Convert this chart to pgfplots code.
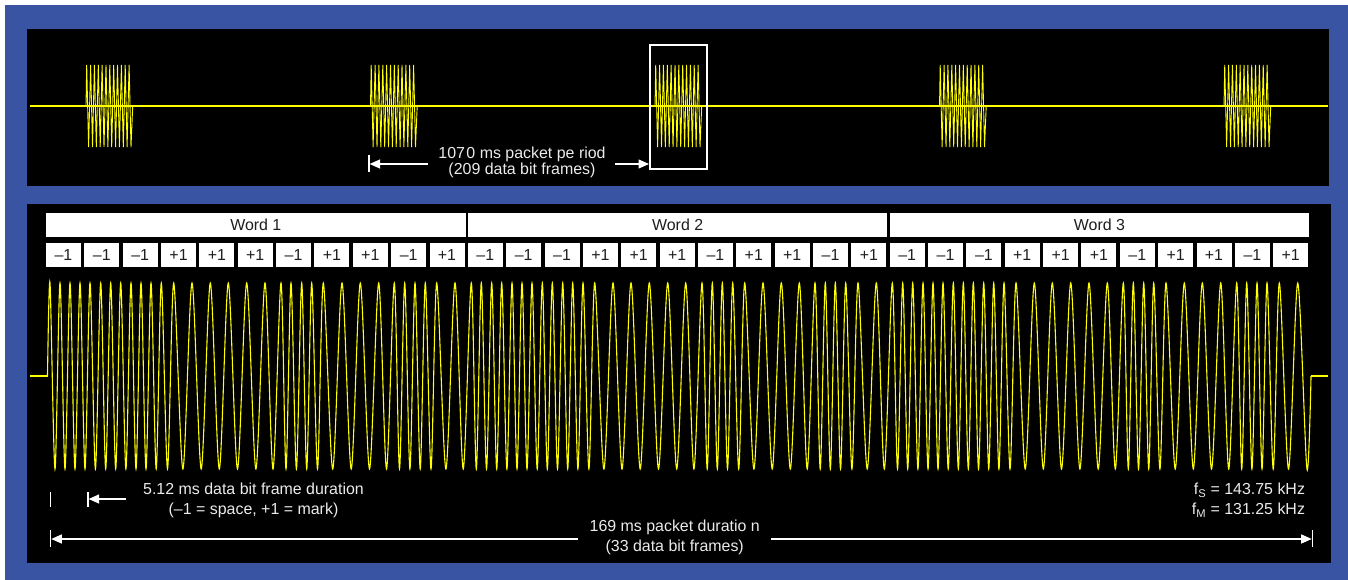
\documentclass[border=0pt]{standalone}
\usepackage{fontspec}
\setmainfont{Liberation Sans}
\usepackage{pgfplots}
\pgfplotsset{compat=1.18}
\usetikzlibrary{arrows.meta}
\definecolor{bgblue}{RGB}{58,84,164}
\definecolor{wave}{RGB}{255,255,0}
\definecolor{txt}{RGB}{235,235,235}
\definecolor{boxtxt}{RGB}{30,30,30}
\tikzset{ann/.style={white,line width=1.3bp},
  tip/.style={ann,-{Triangle[length=10.5bp,width=9bp]}}}

\begin{document}
\begin{tikzpicture}[font=\fontsize{16}{19}\selectfont]
% page in pixel units, origin top left
\begin{scope}[x=1bp,y=-1bp,yshift=580bp]
  \fill[white] (0,0) rectangle (1348,580);
  \fill[bgblue] (5,5) rectangle (1348,580);
  \fill[black] (27,29) rectangle (1329,186);
  \fill[black] (27,204) rectangle (1331,563);
\end{scope}

\begin{axis}[width=1348bp,height=580bp,scale only axis,
  xmin=0,xmax=1348,ymin=0,ymax=580,y dir=reverse,hide axis]
% top trace: baseline and five packets
\addplot[wave,line width=1.1bp] coordinates {(30,106) (1328,106)};
\addplot[wave,line width=0.9bp] coordinates {
 (86,106) (86.7,65) (88.6,147) (90.6,65) (92.5,147) (94.4,65) (96.3,147) (98.3,65) (100.2,147)
 (102.1,65) (104.0,147) (106.0,65) (107.9,147) (109.8,65) (111.7,147) (113.7,65) (115.6,147)
 (117.5,65) (119.4,147) (121.4,65) (123.3,147) (125.2,65) (127.1,147) (129.1,65) (131.0,147) (132.7,106)};
\addplot[wave,line width=0.9bp] coordinates {
 (370.5,106) (371.2,65) (373.1,147) (375.1,65) (377.0,147) (378.9,65) (380.8,147) (382.8,65) (384.7,147)
 (386.6,65) (388.5,147) (390.5,65) (392.4,147) (394.3,65) (396.2,147) (398.2,65) (400.1,147)
 (402.0,65) (403.9,147) (405.9,65) (407.8,147) (409.7,65) (411.6,147) (413.6,65) (415.5,147) (417.2,106)};
\addplot[wave,line width=0.9bp] coordinates {
 (655,106) (655.7,65) (657.6,147) (659.6,65) (661.5,147) (663.4,65) (665.3,147) (667.3,65) (669.2,147)
 (671.1,65) (673.0,147) (675.0,65) (676.9,147) (678.8,65) (680.7,147) (682.7,65) (684.6,147)
 (686.5,65) (688.4,147) (690.4,65) (692.3,147) (694.2,65) (696.1,147) (698.1,65) (700.0,147) (701.7,106)};
\addplot[wave,line width=0.9bp] coordinates {
 (939.5,106) (940.2,65) (942.1,147) (944.1,65) (946.0,147) (947.9,65) (949.8,147) (951.8,65) (953.7,147)
 (955.6,65) (957.5,147) (959.5,65) (961.4,147) (963.3,65) (965.2,147) (967.2,65) (969.1,147)
 (971.0,65) (972.9,147) (974.9,65) (976.8,147) (978.7,65) (980.6,147) (982.6,65) (984.5,147) (986.2,106)};
\addplot[wave,line width=0.9bp] coordinates {
 (1224,106) (1224.7,65) (1226.6,147) (1228.6,65) (1230.5,147) (1232.4,65) (1234.3,147) (1236.3,65) (1238.2,147)
 (1240.1,65) (1242.0,147) (1244.0,65) (1245.9,147) (1247.8,65) (1249.7,147) (1251.7,65) (1253.6,147)
 (1255.5,65) (1257.4,147) (1259.4,65) (1261.3,147) (1263.2,65) (1265.1,147) (1267.1,65) (1269.0,147) (1270.7,106)};

% bottom trace: one packet, peaks and troughs
\addplot[wave,line width=1.1bp] coordinates {(30,376) (47.5,376)};
\addplot[wave,line width=1.1bp,smooth] coordinates {
 (47.5,376)
 (50,283) (55,469) (60,283) (65,469) (70,283) (75,469) (80,283) (85,469) (90,283) (95.4,469)
 (100.7,283) (105.7,469) (110.7,283) (115.7,469) (120.7,283) (125.9,469) (131,283) (136,469)
 (141,283) (146,469) (151,283) (156.2,469) (161.3,283) (167.5,469)
 (173.7,283) (182.9,469) (192,283) (201.2,469) (210.3,283) (219.3,469) (228.3,283) (237.5,469)
 (246.7,283) (255.9,469) (265,283) (273,469)
 (281,283) (286,469) (291,283) (296.4,469) (301.7,283) (306.7,469) (311.7,283) (317.5,469)
 (323.3,283) (332.7,469) (342,283) (351.2,469) (360.3,283) (369.5,469) (378.7,283) (386.5,469)
 (394.3,283) (399.5,469) (404.7,283) (409.9,469) (415,283) (420.2,469) (425.3,283) (431,469)
 (436.7,283) (445.9,469) (455,283) (463.2,469)
 (471.3,283) (476.3,469) (481.3,283) (486.5,469) (491.7,283) (496.7,469) (501.7,283) (506.9,469)
 (512,283) (517,469) (522,283) (527,469) (532,283) (537.2,469) (542.3,283) (547.3,469)
 (552.3,283) (557.5,469) (562.7,283) (567.7,469) (572.7,283) (577.9,469) (583,283) (588.9,469)
 (594.7,283) (603.9,469) (613,283) (622,469) (631,283) (640.2,469) (649.3,283) (658.5,469)
 (667.7,283) (676.7,469) (685.7,283) (693.9,469)
 (702,283) (707.2,469) (712.3,283) (717.3,469) (722.3,283) (727.5,469) (732.7,283) (738.7,469)
 (744.7,283) (753.9,469) (763,283) (772.2,469) (781.3,283) (790.3,469) (799.3,283) (807.2,469)
 (815,283) (820.2,469) (825.3,283) (830.3,469) (835.3,283) (840.5,469) (845.7,283) (851.9,469)
 (858,283) (867.2,469) (876.3,283) (884.3,469)
 (892.3,283) (897.5,469) (902.7,283) (907.7,469) (912.7,283) (917.9,469) (923,283) (928,469)
 (933,283) (938,469) (943,283) (948.2,469) (953.3,283) (958.3,469) (963.3,283) (968.3,469)
 (973.3,283) (978.5,469) (983.7,283) (988.7,469) (993.7,283) (998.9,469) (1004,283) (1010,469)
 (1016,283) (1025.2,469) (1034.3,283) (1043.3,469) (1052.3,283) (1061.5,469) (1070.7,283) (1079.9,469)
 (1089,283) (1098.2,469) (1107.3,283) (1115.3,469)
 (1123.3,283) (1128.3,469) (1133.3,283) (1138.5,469) (1143.7,283) (1148.7,469) (1153.7,283) (1159.9,469)
 (1166,283) (1175.2,469) (1184.3,283) (1193.3,469) (1202.3,283) (1211.5,469) (1220.7,283) (1228.7,469)
 (1236.7,283) (1241.7,469) (1246.7,283) (1251.9,469) (1257,283) (1262,469) (1267,283) (1273.2,469)
 (1279.3,283) (1288.5,469) (1297.7,283) (1306.9,469) (1311,376)};
\addplot[wave,line width=1.1bp] coordinates {(1311,376) (1328,376)};
\end{axis}

\begin{scope}[x=1bp,y=-1bp,yshift=580bp]
  % top panel annotations
  \draw[white,line width=2bp] (650,45) rectangle (706.7,169.3);
  \draw[ann] (369,155) -- (369,172);
  \draw[tip] (428,164) -- (369.6,164);
  \draw[tip] (615,164) -- (649,164);
  \node[txt,anchor=base] at (522,158.3) {107\kern1.5bp0 ms packet pe riod};
  \node[txt,anchor=base] at (522,175) {(209 data bit frames)};
  % word and bit boxes
  \foreach \w/\n in {0/1,1/2,2/3} {
    \fill[white] ({46+421.85*\w},213.3) rectangle ++(419.6,23.4);
    \node[boxtxt,anchor=base] at ({46+421.85*\w+209.8},230.7) {Word \n};
    \foreach [count=\j from 0] \b in {\textendash1,\textendash1,\textendash1,+1,+1,+1,\textendash1,+1,+1,\textendash1,+1} {
      \fill[white] ({46+421.85*\w+38.35*\j},243.3) rectangle ++(35,23.4);
      \node[boxtxt,anchor=base] at ({46+421.85*\w+38.35*\j+17.5},261) {\b};
    }
  }
  % bit frame duration
  \draw[ann] (50.7,491.7) -- (50.7,507.3);
  \draw[ann] (88,491.7) -- (88,507.3);
  \draw[tip] (126,499) -- (88.6,499);
  \node[txt,anchor=base] at (253.5,495) {5.12 ms data bit frame duration};
  \node[txt,anchor=base] at (253.5,515) {(\textendash1 = space, +1 = mark)};
  % packet duration
  \draw[ann] (50.7,530) -- (50.7,547);
  \draw[ann] (1312.3,530) -- (1312.3,547);
  \draw[tip] (577.7,539) -- (51.3,539);
  \draw[tip] (771,539) -- (1311.7,539);
  \node[txt,anchor=base] at (674.7,531.5) {169 ms packet duratio n};
  \node[txt,anchor=base] at (674.7,551.5) {(33 data bit frames)};
  % frequencies
  \node[txt,anchor=base east] at (1308.5,495) {f\textsubscript{S} = 143.75 kHz};
  \node[txt,anchor=base east] at (1308.5,514.5) {f\textsubscript{M} = 131.25 kHz};
\end{scope}
\end{tikzpicture}
\end{document}
